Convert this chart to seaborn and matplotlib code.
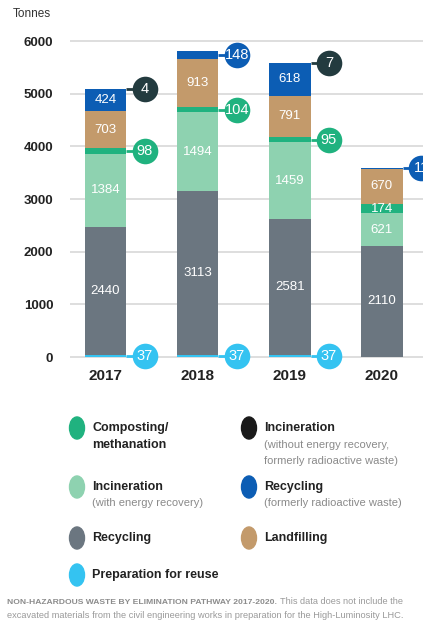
import numpy as np
import matplotlib
matplotlib.use('Agg')
import matplotlib.pyplot as plt
import seaborn as sns

# values (tonnes), stacked bottom -> top
years = ['2017', '2018', '2019', '2020']
reuse = [37, 37, 37, 0]
recycling = [2440, 3113, 2581, 2110]
incin_energy = [1384, 1494, 1459, 621]
composting = [98, 104, 95, 174]
landfill = [703, 913, 791, 670]
recycling_rad = [424, 148, 618, 11]
incin_no_energy = [4, 0, 7, 0]

layers = [
    (reuse, '#34c3f1'),
    (recycling, '#6b7680'),
    (incin_energy, '#8ed2b0'),
    (composting, '#20b27f'),
    (landfill, '#c39a6b'),
    (recycling_rad, '#0c5db4'),
    (incin_no_energy, '#233b3f'),
]

sns.set_theme(style='white')
plt.rcParams['font.family'] = ['Liberation Sans', 'DejaVu Sans']

W, H = 423, 622
fig = plt.figure(figsize=(W / 100, H / 100), dpi=100)

# axes placed so that 0 -> y=357px and 6000 -> y=41px
ppu = (357 - 41) / 6000
ylo, yhi = -150, 6300
bot = 357 + (0 - ylo) * ppu
top = 41 - (yhi - 6000) * ppu
ax = fig.add_axes([70 / W, 1 - bot / H, 1 - 70 / W, (bot - top) / H])

vals = np.array([l[0] for l in layers], dtype=float)
cum = np.cumsum(vals, axis=0)
bw = 0.45

# overlapping cumulative bars, drawn from the top layer down
for k in reversed(range(len(layers))):
    sns.barplot(x=years, y=cum[k], color=layers[k][1], width=bw, saturation=1,
                errorbar=None, linewidth=0, ax=ax)

ax.set_xlim(-0.386, 3.446)
ax.set_ylim(ylo, yhi)
ax.set_yticks(range(0, 6001, 1000))
ax.set_yticklabels([str(v) for v in range(0, 6001, 1000)], fontweight='bold',
                   fontsize=9.5, color='#222222')
ax.set_xticks(range(4))
ax.set_xticklabels(years, fontweight='bold', fontsize=11, color='#222222')
ax.tick_params(axis='y', length=0, pad=12)
ax.tick_params(axis='x', length=0, pad=3)
ax.yaxis.grid(True, color='#d8d8d8', lw=1.2)
ax.xaxis.grid(False)
ax.set_axisbelow(True)
for s in ax.spines.values():
    s.set_visible(False)
ax.set_xlabel('')
ax.set_ylabel('')

# labels inside segments, or in bubbles for small ones
for k, (v, c) in enumerate(layers):
    for i in range(4):
        if v[i] == 0:
            continue
        mid = cum[k][i] - v[i] / 2
        if v[i] >= 160:
            ax.text(i, mid, str(v[i]), ha='center', va='center', color='white',
                    fontsize=9.5, zorder=5)
        else:
            bx = i + bw / 2 + 0.2
            ax.plot([i + bw / 2, bx], [mid, mid], color=c, lw=2, zorder=4,
                    solid_capstyle='butt', clip_on=False)
            ax.scatter([bx], [mid], s=340, color=c, zorder=5, clip_on=False,
                       linewidths=0)
            ax.text(bx, mid, str(v[i]), ha='center', va='center', color='white',
                    fontsize=10.5, zorder=6, clip_on=False)

def px(x, y):
    return x / W, 1 - y / H

fig.text(*px(13, 14), 'Tonnes', fontsize=8.5, color='#333333', va='center')

# legend
legend = [
    (77, 428, '#20b27f', ['Composting/', 'methanation'], []),
    (249, 428, '#1a1a1a', ['Incineration'], ['(without energy recovery,', 'formerly radioactive waste)']),
    (77, 487, '#8ed2b0', ['Incineration'], ['(with energy recovery)']),
    (249, 487, '#0c5db4', ['Recycling'], ['(formerly radioactive waste)']),
    (77, 538, '#6b7680', ['Recycling'], []),
    (249, 538, '#c39a6b', ['Landfilling'], []),
    (77, 575, '#34c3f1', ['Preparation for reuse'], []),
]
for x, y, c, bold, light in legend:
    fig.patches.append(plt.Circle(px(x, y), 7.5 / W, transform=fig.transFigure,
                                  color=c, figure=fig))
    yy = y
    for line in bold:
        fig.text(*px(x + 15, yy), line, fontsize=9, fontweight='bold',
                 color='#222222', va='center')
        yy += 16.5
    for line in light:
        fig.text(*px(x + 15, yy), line, fontsize=8, color='#8a8a8a', va='center')
        yy += 16.5

# caption, bold part followed by regular part
r = fig.canvas.get_renderer()
t1 = fig.text(*px(7, 602), 'NON-HAZARDOUS WASTE BY ELIMINATION PATHWAY 2017-2020.',
              fontsize=6.1, fontweight='bold', color='#8c8c8c', va='center')
ext = t1.get_window_extent(renderer=r)
fig.text(ext.x1 / W + 3 / W, 1 - 602 / H, 'This data does not include the',
         fontsize=6.6, color='#9a9a9a', va='center')
fig.text(*px(7, 616), 'excavated materials from the civil engineering works in '
         'preparation for the High-Luminosity LHC.', fontsize=6.7, color='#9a9a9a',
         va='center')

fig.savefig('out.png', dpi=100)
